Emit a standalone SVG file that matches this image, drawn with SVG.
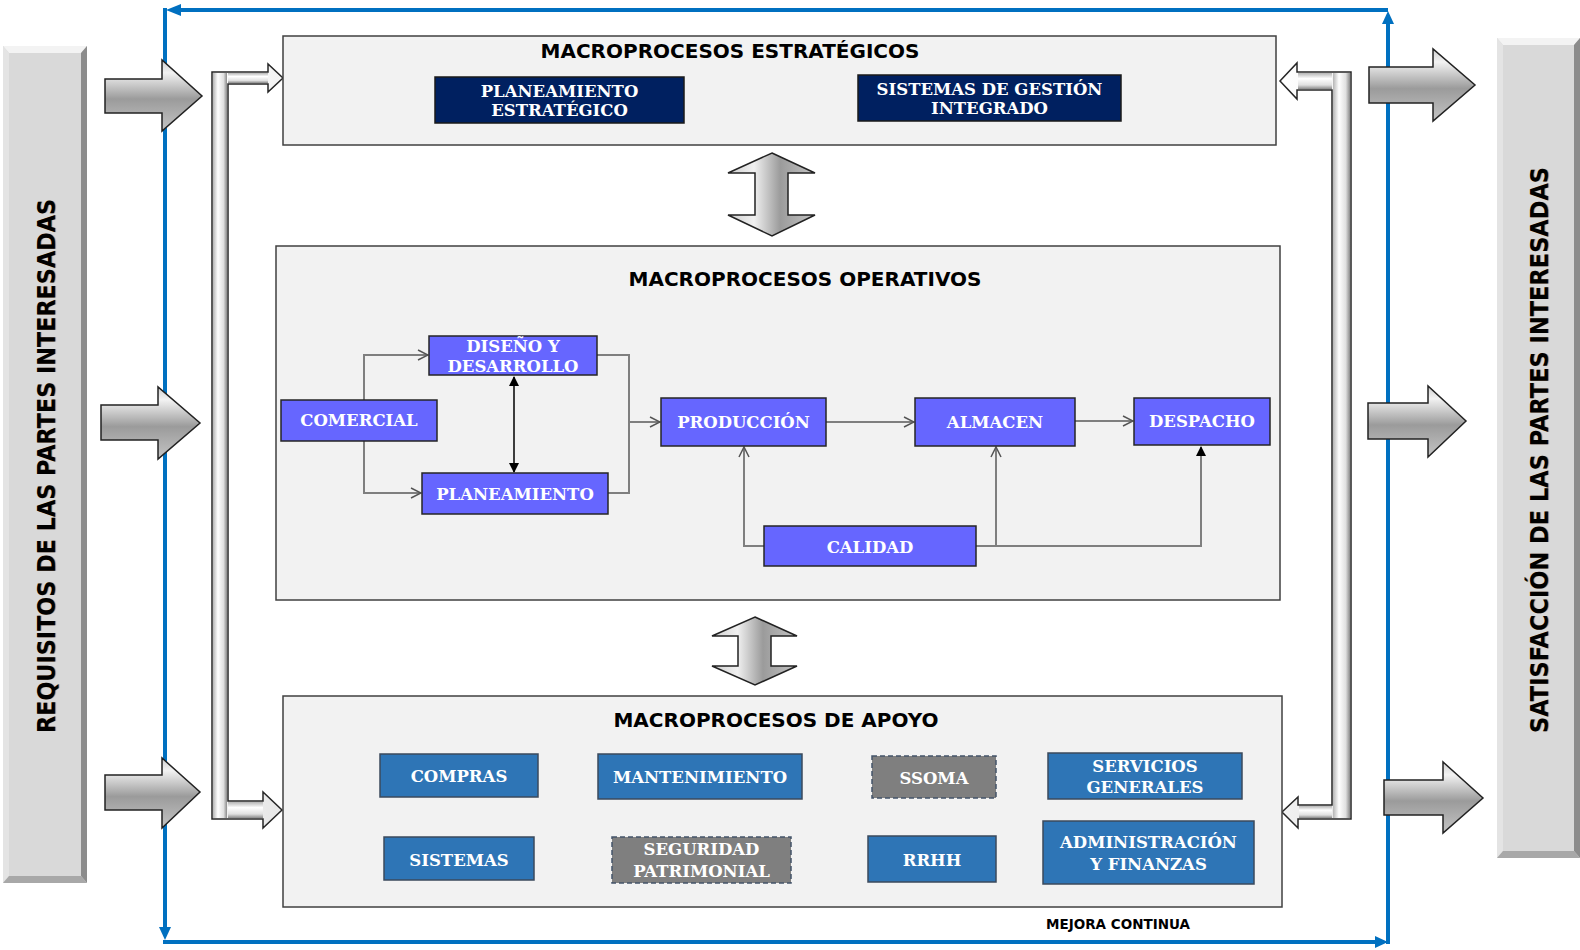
<svg xmlns="http://www.w3.org/2000/svg" width="1580" height="950" viewBox="0 0 1580 950">
<style>
.panel{fill:#f2f2f2;stroke:#404040;stroke-width:1.5}
.title{font-family:"DejaVu Sans",Verdana,sans-serif;font-weight:bold;font-size:20px;fill:#000;text-anchor:middle}
.lbl{font-family:"DejaVu Serif","Liberation Serif",serif;font-weight:bold;font-size:16.5px;fill:#fff;text-anchor:middle}
.navy{fill:#002060;stroke:#1a1a1a;stroke-width:1.5}
.op{fill:#6666ff;stroke:#262626;stroke-width:1.5}
.sup{fill:#2e75b6;stroke:#3b4a5c;stroke-width:1.5}
.dash{fill:#7f7f7f;stroke:#44546a;stroke-width:1.5;stroke-dasharray:5 3}
.con{fill:none;stroke:#7f7f7f;stroke-width:2}
.blue{fill:none;stroke:#0070c0;stroke-width:4}
.bigarrow{fill:url(#silver);stroke:#222;stroke-width:1.5;stroke-linejoin:miter}
.tube{fill:url(#tube);stroke:#262626;stroke-width:1.5}
.vtext{font-family:"DejaVu Sans",Verdana,sans-serif;font-weight:bold;font-size:24px;text-anchor:middle}
</style>
<defs>
<linearGradient id="silver" x1="0" y1="0" x2="0" y2="1">
<stop offset="0" stop-color="#cfcfcf"/>
<stop offset="0.18" stop-color="#f2f2f2"/>
<stop offset="0.55" stop-color="#9b9b9b"/>
<stop offset="1" stop-color="#c4c4c4"/>
</linearGradient>
<linearGradient id="silverH" x1="0" y1="0" x2="1" y2="0">
<stop offset="0" stop-color="#cfcfcf"/>
<stop offset="0.3" stop-color="#f0f0f0"/>
<stop offset="0.6" stop-color="#9b9b9b"/>
<stop offset="1" stop-color="#c4c4c4"/>
</linearGradient>
<linearGradient id="tube" x1="0" y1="0" x2="1" y2="1">
<stop offset="0" stop-color="#ffffff"/>
<stop offset="1" stop-color="#e6e6e6"/>
</linearGradient>
<linearGradient id="tubeV" x1="0" y1="0" x2="1" y2="0">
<stop offset="0" stop-color="#b5b5b5"/>
<stop offset="0.35" stop-color="#ffffff"/>
<stop offset="0.75" stop-color="#e0e0e0"/>
<stop offset="1" stop-color="#8a8a8a"/>
</linearGradient>
<linearGradient id="tubeH" x1="0" y1="0" x2="0" y2="1">
<stop offset="0" stop-color="#b5b5b5"/>
<stop offset="0.35" stop-color="#ffffff"/>
<stop offset="0.75" stop-color="#e0e0e0"/>
<stop offset="1" stop-color="#8a8a8a"/>
</linearGradient>
<marker id="open" viewBox="0 0 12 12" refX="11" refY="6" markerWidth="12" markerHeight="12" markerUnits="userSpaceOnUse" orient="auto">
<path d="M1,1 L11,6 L1,11" fill="none" stroke="#555" stroke-width="1.5"/>
</marker>
<marker id="solid" viewBox="0 0 10 10" refX="9" refY="5" markerWidth="10" markerHeight="10" markerUnits="userSpaceOnUse" orient="auto-start-reverse">
<path d="M0,0 L10,5 L0,10 Z" fill="#000"/>
</marker>
</defs>
<rect x="0" y="0" width="1580" height="950" fill="#ffffff"/>

<!-- Side bars -->
<g id="bar-left">
<rect x="3" y="46" width="84" height="837" fill="#d9d9d9"/>
<polygon points="3,46 87,46 81,53 9,53" fill="#f3f3f3"/>
<polygon points="3,46 9,53 9,876 3,883" fill="#e4e4e4"/>
<polygon points="87,46 87,883 81,876 81,53" fill="#8c8c8c"/>
<polygon points="3,883 87,883 81,876 9,876" fill="#a8a8a8"/>
<text class="vtext" transform="translate(56,466) rotate(-90)" fill="#b5651d" opacity="0.55" textLength="534" lengthAdjust="spacingAndGlyphs">REQUISITOS DE LAS PARTES INTERESADAS</text>
<text class="vtext" transform="translate(55,466) rotate(-90)" fill="#000" textLength="534" lengthAdjust="spacingAndGlyphs">REQUISITOS DE LAS PARTES INTERESADAS</text>
</g>
<g id="bar-right">
<rect x="1497" y="38" width="83" height="820" fill="#d9d9d9"/>
<polygon points="1497,38 1580,38 1574,45 1503,45" fill="#f3f3f3"/>
<polygon points="1497,38 1503,45 1503,851 1497,858" fill="#e4e4e4"/>
<polygon points="1580,38 1580,858 1574,851 1574,45" fill="#8c8c8c"/>
<polygon points="1497,858 1580,858 1574,851 1503,851" fill="#a8a8a8"/>
<text class="vtext" transform="translate(1549,450) rotate(-90)" fill="#b5651d" opacity="0.55" textLength="566" lengthAdjust="spacingAndGlyphs">SATISFACCIÓN DE LAS PARTES INTERESADAS</text>
<text class="vtext" transform="translate(1548,450) rotate(-90)" fill="#000" textLength="566" lengthAdjust="spacingAndGlyphs">SATISFACCIÓN DE LAS PARTES INTERESADAS</text>
</g>

<!-- Blue continuous-improvement loop -->
<g id="mejora-loop">
<line class="blue" x1="1388" y1="10" x2="172" y2="10"/>
<polygon points="166,10 181,4 181,16" fill="#0070c0"/>
<line class="blue" x1="165" y1="8" x2="165" y2="932"/>
<polygon points="165,940 159,927 171,927" fill="#0070c0"/>
<line class="blue" x1="163" y1="942" x2="1378" y2="942"/>
<polygon points="1388,942 1375,936 1375,948" fill="#0070c0"/>
<line class="blue" x1="1388" y1="944" x2="1388" y2="20"/>
<polygon points="1388,11 1382,24 1394,24" fill="#0070c0"/>
<text x="1118" y="929" font-family="DejaVu Sans,Verdana,sans-serif" font-weight="bold" font-size="13.5" text-anchor="middle" fill="#000">MEJORA CONTINUA</text>
</g>

<!-- Big input/output arrows -->
<g id="input-arrows">
<polygon class="bigarrow" points="105,79 162,79 162,60 202,96 162,131 162,113 105,113"/>
<polygon class="bigarrow" points="101,405 158,405 158,387 200,423 158,459 158,440 101,440"/>
<polygon class="bigarrow" points="105,775 162,775 162,758 200,792 162,828 162,810 105,810"/>
</g>
<g id="output-arrows">
<polygon class="bigarrow" points="1369,67 1433,67 1433,49 1475,85 1433,121 1433,103 1369,103"/>
<polygon class="bigarrow" points="1368,403 1428,403 1428,386 1466,421 1428,457 1428,439 1368,439"/>
<polygon class="bigarrow" points="1384,780 1443,780 1443,762 1483,798 1443,833 1443,815 1384,815"/>
</g>

<!-- Bent tube arrows -->
<g id="tube-left">
<polygon class="tube" points="212,72 268,72 268,64 283,78 268,92 268,84 228,84 228,801 263,801 263,792 282,810 263,828 263,819 212,819"/>
<rect x="213" y="73" width="14" height="745" fill="url(#tubeV)"/>
<rect x="228" y="73" width="40" height="10" fill="url(#tubeH)"/>
<rect x="228" y="802" width="35" height="16" fill="url(#tubeH)"/>
</g>
<g id="tube-right">
<polygon class="tube" points="1351,72 1297,72 1297,63 1280,81 1297,99 1297,90 1332,90 1332,805 1298,805 1298,797 1282,812 1298,828 1298,819 1351,819"/>
<rect x="1333" y="73" width="17" height="745" fill="url(#tubeV)"/>
<rect x="1298" y="73" width="34" height="16" fill="url(#tubeH)"/>
<rect x="1299" y="806" width="33" height="12" fill="url(#tubeH)"/>
</g>

<!-- Panels -->
<g id="panel-estrategicos">
<rect class="panel" x="283" y="36" width="993" height="109"/>
<text class="title" x="730" y="58">MACROPROCESOS ESTRATÉGICOS</text>
</g>
<g id="panel-operativos">
<rect class="panel" x="276" y="246" width="1004" height="354"/>
<text class="title" x="805" y="286">MACROPROCESOS OPERATIVOS</text>
</g>
<g id="panel-apoyo">
<rect class="panel" x="283" y="696" width="999" height="211"/>
<text class="title" x="776" y="727">MACROPROCESOS DE APOYO</text>
</g>

<!-- Double arrows between panels -->
<g id="dbl-arrow-1">
<polygon fill="url(#silverH)" stroke="#222" stroke-width="1.5" points="772,153 815,173 788,173 788,215 815,215 772,236 728,215 755,215 755,173 728,173"/>
</g>
<g id="dbl-arrow-2">
<polygon fill="url(#silverH)" stroke="#222" stroke-width="1.5" points="755,617 797,636 771,636 771,666 797,666 755,685 712,666 738,666 738,636 712,636"/>
</g>

<!-- Connectors -->
<g id="connectors">
<path class="con" d="M364,400 V355 H428" marker-end="url(#open)"/>
<path class="con" d="M364,441 V493 H421" marker-end="url(#open)"/>
<path d="M514,377 V472" fill="none" stroke="#000" stroke-width="1.5" marker-start="url(#solid)" marker-end="url(#solid)"/>
<path class="con" d="M597,355 H629 V493 H608"/>
<path class="con" d="M629,422 H660" marker-end="url(#open)"/>
<path class="con" d="M826,422 H914" marker-end="url(#open)"/>
<path class="con" d="M1075,421 H1133" marker-end="url(#open)"/>
<path class="con" d="M764,546 H744 V447" marker-end="url(#open)"/>
<path class="con" d="M976,546 H996 V447" marker-end="url(#open)"/>
<path class="con" d="M996,546 H1201 V447" marker-end="url(#solid)"/>
</g>

<!-- Strategic nodes -->
<g id="n-planeamiento-estrategico">
<rect class="navy" x="435" y="77" width="249" height="46"/>
<text class="lbl" x="559.5" y="97">PLANEAMIENTO</text>
<text class="lbl" x="559.5" y="116">ESTRATÉGICO</text>
</g>
<g id="n-sgi">
<rect class="navy" x="858" y="75" width="263" height="46"/>
<text class="lbl" x="989.5" y="95">SISTEMAS DE GESTIÓN</text>
<text class="lbl" x="989.5" y="114">INTEGRADO</text>
</g>

<!-- Operational nodes -->
<g id="n-diseno">
<rect class="op" x="429" y="336" width="168" height="39"/>
<text class="lbl" x="513" y="352">DISEÑO Y</text>
<text class="lbl" x="513" y="372">DESARROLLO</text>
</g>
<g id="n-comercial">
<rect class="op" x="281" y="400" width="156" height="41"/>
<text class="lbl" x="359" y="426">COMERCIAL</text>
</g>
<g id="n-planeamiento">
<rect class="op" x="422" y="473" width="186" height="41"/>
<text class="lbl" x="515" y="500">PLANEAMIENTO</text>
</g>
<g id="n-produccion">
<rect class="op" x="661" y="398" width="165" height="48"/>
<text class="lbl" x="743.5" y="428">PRODUCCIÓN</text>
</g>
<g id="n-almacen">
<rect class="op" x="915" y="398" width="160" height="48"/>
<text class="lbl" x="995" y="428">ALMACEN</text>
</g>
<g id="n-despacho">
<rect class="op" x="1134" y="398" width="136" height="47"/>
<text class="lbl" x="1202" y="427">DESPACHO</text>
</g>
<g id="n-calidad">
<rect class="op" x="764" y="526" width="212" height="40"/>
<text class="lbl" x="870" y="553">CALIDAD</text>
</g>

<!-- Support nodes -->
<g id="n-compras">
<rect class="sup" x="380" y="754" width="158" height="43"/>
<text class="lbl" x="459" y="782">COMPRAS</text>
</g>
<g id="n-mantenimiento">
<rect class="sup" x="598" y="754" width="204" height="45"/>
<text class="lbl" x="700" y="783">MANTENIMIENTO</text>
</g>
<g id="n-ssoma">
<rect class="dash" x="872" y="756" width="124" height="42"/>
<text class="lbl" x="934" y="784">SSOMA</text>
</g>
<g id="n-servicios">
<rect class="sup" x="1048" y="753" width="194" height="46"/>
<text class="lbl" x="1145" y="772">SERVICIOS</text>
<text class="lbl" x="1145" y="793">GENERALES</text>
</g>
<g id="n-sistemas">
<rect class="sup" x="384" y="837" width="150" height="43"/>
<text class="lbl" x="459" y="866">SISTEMAS</text>
</g>
<g id="n-seguridad">
<rect class="dash" x="612" y="837" width="179" height="46"/>
<text class="lbl" x="701.5" y="855">SEGURIDAD</text>
<text class="lbl" x="701.5" y="877">PATRIMONIAL</text>
</g>
<g id="n-rrhh">
<rect class="sup" x="868" y="836" width="128" height="46"/>
<text class="lbl" x="932" y="866">RRHH</text>
</g>
<g id="n-admin">
<rect class="sup" x="1043" y="821" width="211" height="63"/>
<text class="lbl" x="1148.5" y="848">ADMINISTRACIÓN</text>
<text class="lbl" x="1148.5" y="870">Y FINANZAS</text>
</g>
</svg>
